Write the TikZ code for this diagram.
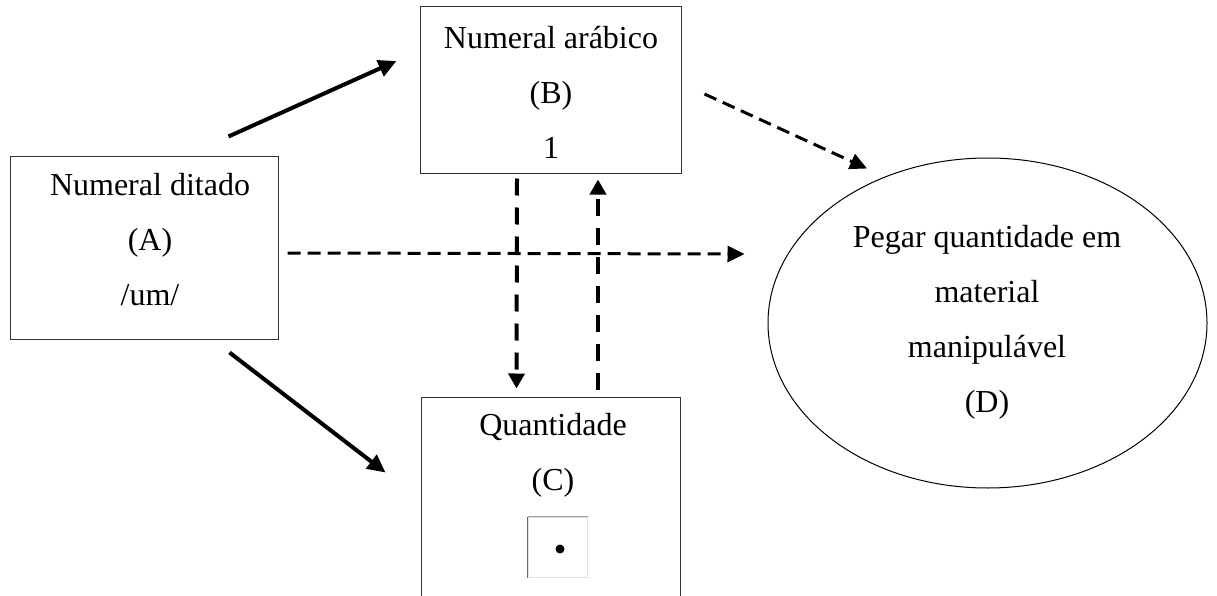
\documentclass[tikz,border=0pt]{standalone}
\usepackage{fontspec}
\setmainfont{Liberation Serif}
\usetikzlibrary{arrows.meta,shapes.geometric}
\tikzset{
  box/.style={draw=black!80, line width=1pt, rectangle, inner sep=0pt},
  txt/.style={align=center, inner sep=0pt, font=\fontsize{32}{55}\selectfont},
  solidarrow/.style={line width=4pt, -{Triangle[length=18pt,width=17pt]}},
  hdash/.style={line width=3pt, dash pattern=on 13pt off 7pt, -{Triangle[length=17pt,width=16pt]}},
  vdash/.style={line width=4pt, dash pattern=on 17pt off 12pt, -{Triangle[length=15pt,width=16pt]}},
}
\begin{document}
\begin{tikzpicture}[x=1pt,y=-1pt]
\useasboundingbox (0,0) rectangle (1217,596);
\clip (0,0) rectangle (1217,596);
\fill[white] (0,0) rectangle (1217,596);

% boxes
\node[box, minimum width=268pt, minimum height=182pt] (A) at (144,248) {};
\node[box, minimum width=261pt, minimum height=167pt] (B) at (550.5,90.5) {};
\node[box, minimum width=259pt, minimum height=226pt] (C) at (550.5,510) {};
\node[draw=black, line width=1pt, ellipse, minimum width=439pt, minimum height=330pt, inner sep=0pt] (D) at (987.5,323) {};

% texts
\node[txt] (At) at (150,240) {Numeral ditado\\(A)\\/um/};
\node[txt] (Bt) at (551,92) {Numeral arábico\\(B)\\1};
\node[txt] (Ct) at (553,455) {Quantidade\\(C)};
\node[txt] (Dt) at (987,322) {Pegar quantidade em\\material\\manipulável\\(D)};

% small dot picture
\node[inner sep=0pt, minimum width=59pt, minimum height=60pt, draw=black!12, line width=1pt] (dotbox) at (557.5,547) {};
\draw[black!60, line width=1.5pt] (dotbox.south west) -- (dotbox.north west);
\draw[black!40, line width=1.2pt] (dotbox.north west) -- (dotbox.north east);
\fill[black] (dotbox.center) ++(2.5pt,-2pt) circle (4.5pt);

% connectors
\draw[solidarrow] ([xshift=-50pt,yshift=20pt]A.north east) -- ([xshift=-23pt,yshift=29.5pt]B.west);
\draw[solidarrow] ([xshift=-49pt,yshift=-13pt]A.south east) -- ([xshift=-35pt,yshift=-76pt]C.north west);
\draw[hdash] ([xshift=9pt,yshift=-5pt]A.east) -- ([xshift=-23pt,yshift=69pt]D.west);
\draw[hdash] ([xshift=23pt,yshift=-3.5pt]B.east) -- ([xshift=-120.5pt,yshift=-11pt]D.north);
\draw[vdash] ([xshift=-33.5pt,yshift=-4pt]B.south) -- ([xshift=-34pt,yshift=8pt]C.north);
\draw[vdash] ([xshift=47.5pt,yshift=7pt]C.north) -- ([xshift=47.5pt,yshift=-5pt]B.south);
\end{tikzpicture}
\end{document}
